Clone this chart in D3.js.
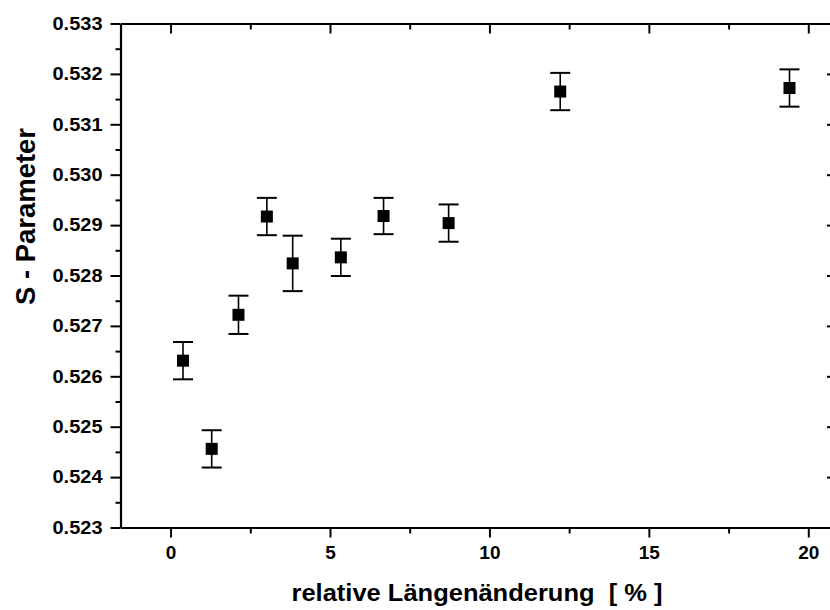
<!DOCTYPE html>
<html>
<head>
<meta charset="utf-8">
<script src="https://cdn.jsdelivr.net/npm/d3@7"></script>
<style>
  body { margin: 0; background: #fff; }
  svg { display: block; font-family: "Liberation Sans", Arial, sans-serif; }
  .domain { stroke: #000; stroke-width: 2.2px; }
  .tick line { stroke: #000; stroke-width: 2px; }
</style>
</head>
<body>
<svg id="chart" width="830" height="610"></svg>
<script>
// valores
const dehnung = [0.39, 1.29, 2.13, 3.02, 3.83, 5.34, 6.68, 8.72, 12.22, 19.41];
const sParam = [0.52631, 0.52456, 0.52722, 0.52917, 0.52824, 0.52836, 0.52918, 0.52904, 0.53165, 0.53172];
const fehler = [0.00037, 0.00037, 0.00038, 0.00037, 0.00055, 0.00037, 0.00036, 0.00037, 0.00037, 0.00037];

const xTicks = [0, 5, 10, 15, 20];
const xMinor = [2.5, 7.5, 12.5, 17.5];
const yTicks = [0.523, 0.524, 0.525, 0.526, 0.527, 0.528, 0.529, 0.530, 0.531, 0.532, 0.533];
const yMinor = [0.5235, 0.5245, 0.5255, 0.5265, 0.5275, 0.5285, 0.5295, 0.5305, 0.5315, 0.5325];

const svg = d3.select("#chart");

// limites da área do gráfico
const plotLeft = 120.5, plotRight = 837, plotTop = 23.5, plotBottom = 527.5;

const x = d3.scaleLinear().domain([-1.57, 20.9]).range([plotLeft, plotRight]);
const y = d3.scaleLinear().domain([0.523, 0.533]).range([plotBottom, plotTop]);

// eixos principais
svg.append("g")
  .attr("transform", `translate(0,${plotBottom})`)
  .call(d3.axisBottom(x).tickValues(xTicks).tickSize(10).tickSizeOuter(0).tickPadding(8).tickFormat(d3.format("d")))
  .call(g => g.selectAll("text").attr("font-size", 19).attr("font-weight", "bold").attr("fill", "#000"));

svg.append("g")
  .attr("transform", `translate(0,${plotBottom})`)
  .call(d3.axisBottom(x).tickValues(xMinor).tickSize(6).tickFormat(""))
  .call(g => g.select(".domain").remove());

svg.append("g")
  .attr("transform", `translate(${plotLeft},0)`)
  .call(d3.axisLeft(y).tickValues(yTicks).tickSize(10).tickSizeOuter(0).tickPadding(8).tickFormat(d3.format(".3f")))
  .call(g => g.selectAll("text")
    .attr("font-size", 18).attr("font-weight", "bold").attr("fill", "#000")
    .attr("textLength", 50).attr("lengthAdjust", "spacingAndGlyphs"));

svg.append("g")
  .attr("transform", `translate(${plotLeft},0)`)
  .call(d3.axisLeft(y).tickValues(yMinor).tickSize(5).tickFormat(""))
  .call(g => g.select(".domain").remove());

// eixos de cima e da direita (ticks pra dentro)
svg.append("g")
  .attr("transform", `translate(0,${plotTop})`)
  .call(d3.axisTop(x).tickValues(xTicks).tickSize(-10).tickSizeOuter(0).tickFormat(""));

svg.append("g")
  .attr("transform", `translate(0,${plotTop})`)
  .call(d3.axisTop(x).tickValues(xMinor).tickSize(-6).tickFormat(""))
  .call(g => g.select(".domain").remove());

svg.append("g")
  .attr("transform", `translate(${plotRight},0)`)
  .call(d3.axisRight(y).tickValues(yTicks).tickSize(-10).tickSizeOuter(0).tickFormat(""));

svg.append("g")
  .attr("transform", `translate(${plotRight},0)`)
  .call(d3.axisRight(y).tickValues(yMinor).tickSize(-5).tickFormat(""))
  .call(g => g.select(".domain").remove());

// barras de erro
const pts = dehnung.map((d, i) => ({ x: d, y: sParam[i], e: fehler[i] }));

const err = svg.append("g").attr("stroke", "#000");

err.append("g").selectAll("line")
  .data(pts)
  .join("line")
  .attr("stroke-width", 1.6)
  .attr("x1", d => x(d.x)).attr("x2", d => x(d.x))
  .attr("y1", d => y(d.y - d.e)).attr("y2", d => y(d.y + d.e));

err.append("g").selectAll("line")
  .data(pts)
  .join("line")
  .attr("stroke-width", 2)
  .attr("x1", d => x(d.x) - 10).attr("x2", d => x(d.x) + 10)
  .attr("y1", d => y(d.y + d.e)).attr("y2", d => y(d.y + d.e));

err.append("g").selectAll("line")
  .data(pts)
  .join("line")
  .attr("stroke-width", 2)
  .attr("x1", d => x(d.x) - 10).attr("x2", d => x(d.x) + 10)
  .attr("y1", d => y(d.y - d.e)).attr("y2", d => y(d.y - d.e));

// quadrados dos pontos
svg.append("g").selectAll("rect")
  .data(pts)
  .join("rect")
  .attr("x", d => x(d.x) - 6)
  .attr("y", d => y(d.y) - 6)
  .attr("width", 12)
  .attr("height", 12)
  .attr("fill", "#000");

// títulos dos eixos
svg.append("text")
  .attr("x", 477)
  .attr("y", 601)
  .attr("text-anchor", "middle")
  .attr("font-size", 23)
  .attr("font-weight", "bold")
  .attr("textLength", 371)
  .attr("lengthAdjust", "spacingAndGlyphs")
  .attr("xml:space", "preserve")
  .text("relative Längenänderung  [ % ]");

svg.append("text")
  .attr("transform", "translate(35,216.5) rotate(-90)")
  .attr("text-anchor", "middle")
  .attr("font-size", 28)
  .attr("font-weight", "bold")
  .attr("textLength", 177)
  .attr("lengthAdjust", "spacingAndGlyphs")
  .attr("xml:space", "preserve")
  .text("S - Parameter");
</script>
</body>
</html>
